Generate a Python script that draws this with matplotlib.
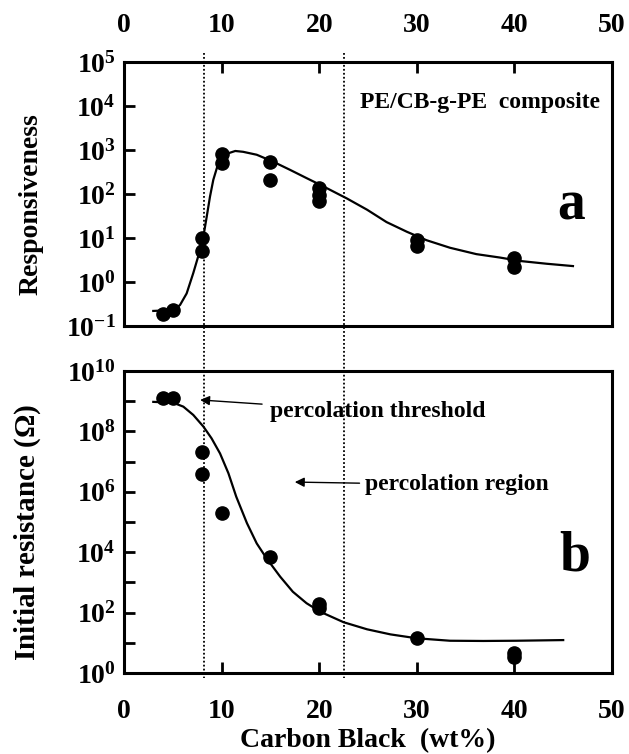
import matplotlib
matplotlib.use('Agg')
import matplotlib.pyplot as plt
from matplotlib.lines import Line2D
from matplotlib.transforms import blended_transform_factory

plt.rcParams['font.family'] = ['Liberation Serif', 'DejaVu Serif']
plt.rcParams['font.weight'] = 'bold'
plt.rcParams['axes.labelweight'] = 'bold'
plt.rcParams['mathtext.fontset'] = 'custom'
plt.rcParams['mathtext.rm'] = 'Liberation Serif:bold'
plt.rcParams['mathtext.it'] = 'Liberation Serif:bold'
plt.rcParams['mathtext.bf'] = 'Liberation Serif:bold'

# panel a: responsiveness data
resp_x = [4, 5, 8, 8, 10, 10, 15, 15, 20, 20, 20, 30, 30, 40, 40]
resp_y = [0.19, 0.23, 9.8, 5.1, 810, 500, 540, 210, 140, 95, 68, 8.9, 6.5, 3.5, 2.2]
# fitted curve
resp_cx = [3.0, 5.05, 5.74, 6.42, 7.1, 7.6, 8.13, 8.47, 8.81, 9.15, 9.56, 10.0, 10.6,
           11.4, 12.2, 13.6, 15.3, 17.0, 18.7, 20.4, 22.1, 22.8, 24.9, 26.9, 29.0,
           31.0, 33.4, 36.1, 38.5, 40.6, 43.3, 46.0]
resp_cy = [0.22, 0.23, 0.30, 0.55, 1.6, 3.8, 10.7, 30, 87, 210, 420, 650, 830,
           950, 910, 780, 540, 355, 230, 150, 96, 80, 44, 23, 13.8,
           8.9, 6.0, 4.3, 3.6, 3.0, 2.6, 2.3]

# panel b: initial resistance data
res_x = [4, 5, 8, 8, 10, 15, 20, 20, 30, 40, 40]
res_y = [1.26e9, 1.26e9, 2.1e7, 3.8e6, 1.95e5, 7.1e3, 200, 140, 14, 4.5, 3.4]
res_cx = [3.0, 5.05, 6.08, 7.1, 8.13, 8.97, 9.84, 10.7, 11.5, 12.6, 13.6, 14.6, 16.0,
          17.3, 18.7, 20.1, 22.5, 24.9, 27.3, 30.0, 33.4, 36.8, 40.2, 45.0]
res_cy = [9.5e8, 8.9e8, 6.6e8, 3.5e8, 1.45e8, 5.9e7, 1.86e7, 4.1e6, 6.9e5, 9.1e4,
          1.95e4, 6.3e3, 1.55e3, 490, 205, 107, 48, 28, 19, 14.1, 11.7, 11.5, 11.7, 12.3]

threshold_x = [8.2, 22.5]

W, H = 629, 754
fig = plt.figure(figsize=(W / 100, H / 100), dpi=100)
L, R = 124 / W, 612 / W
ax1 = fig.add_axes([L, 1 - 326 / H, R - L, (326 - 62) / H])
ax2 = fig.add_axes([L, 1 - 673 / H, R - L, (673 - 371) / H])

TICK_FS = 20
NOTE_FS = 17

for ax in (ax1, ax2):
    for sp in ax.spines.values():
        sp.set_linewidth(2.2)
    ax.set_xlim(0, 50)
    ax.set_yscale('log')
    ax.tick_params(axis='both', which='major', direction='in', length=8, width=2.0,
                   labelsize=TICK_FS)
    ax.tick_params(axis='y', pad=6)
    ax.tick_params(axis='y', which='minor', left=False, right=False)

# panel a
ax1.plot(resp_cx, resp_cy, color='black', lw=1.6, zorder=2)
ax1.plot(resp_x, resp_y, 'o', color='black', ms=9.5, zorder=3)
ax1.set_ylim(0.1, 1e5)
ax1.set_yticks([10.0 ** k for k in range(-1, 6)])
ax1.set_yticklabels([r'$\mathrm{10^{%d}}$' % k for k in range(-1, 6)])
ax1.set_xticks([0, 10, 20, 30, 40, 50])
ax1.tick_params(axis='x', which='major', top=True, bottom=False, labeltop=True,
                labelbottom=False, pad=17)
ax1.set_ylabel('Responsiveness', fontsize=20)
ax1.yaxis.set_label_coords(-0.165, 0.462)
ax1.text(0.483, 0.845, 'PE/CB-g-PE  composite', transform=ax1.transAxes,
         fontsize=NOTE_FS, ha='left', va='center')
ax1.text(0.945, 0.455, 'a', transform=ax1.transAxes, fontsize=40, ha='right',
         va='center')

# panel b
ax2.plot(res_cx, res_cy, color='black', lw=1.6, zorder=2)
ax2.plot(res_x, res_y, 'o', color='black', ms=9.5, zorder=3)
ax2.set_ylim(1, 1e10)
ax2.set_yticks([10.0 ** k for k in range(0, 11)])
ax2.set_yticklabels([r'$\mathrm{10^{%d}}$' % k if k % 2 == 0 else '' for k in range(0, 11)])
ax2.set_xticks([0, 10, 20, 30, 40, 50])
ax2.tick_params(axis='x', pad=19)
ax2.set_ylabel(r'Initial resistance ($\Omega$)', fontsize=21)
ax2.yaxis.set_label_coords(-0.165, 0.465)
ax2.set_xlabel('Carbon Black  (wt%)', fontsize=20, labelpad=3)
ax2.annotate('percolation threshold', xy=(7.8, 1.1e9), xytext=(15.0, 4.4e8),
             fontsize=NOTE_FS, va='center', ha='left',
             arrowprops=dict(arrowstyle='-|>', color='black', lw=1.0,
                             mutation_scale=14, shrinkA=4, shrinkB=0))
ax2.annotate('percolation region', xy=(17.5, 2.1e6), xytext=(24.7, 1.7e6),
             fontsize=NOTE_FS, va='center', ha='left',
             arrowprops=dict(arrowstyle='-|>', color='black', lw=1.0,
                             mutation_scale=14, shrinkA=2, shrinkB=0))
ax2.text(0.955, 0.385, 'b', transform=ax2.transAxes, fontsize=40, ha='right',
         va='center')

# dotted lines crossing both panels
tr = blended_transform_factory(ax2.transData, fig.transFigure)
for xv in threshold_x:
    fig.add_artist(Line2D([xv, xv], [1 - 53 / H, 1 - 678 / H], transform=tr,
                          color='black', lw=1.3, linestyle=(0, (1, 1.2)), zorder=5))

fig.savefig('out.png', dpi=100)
